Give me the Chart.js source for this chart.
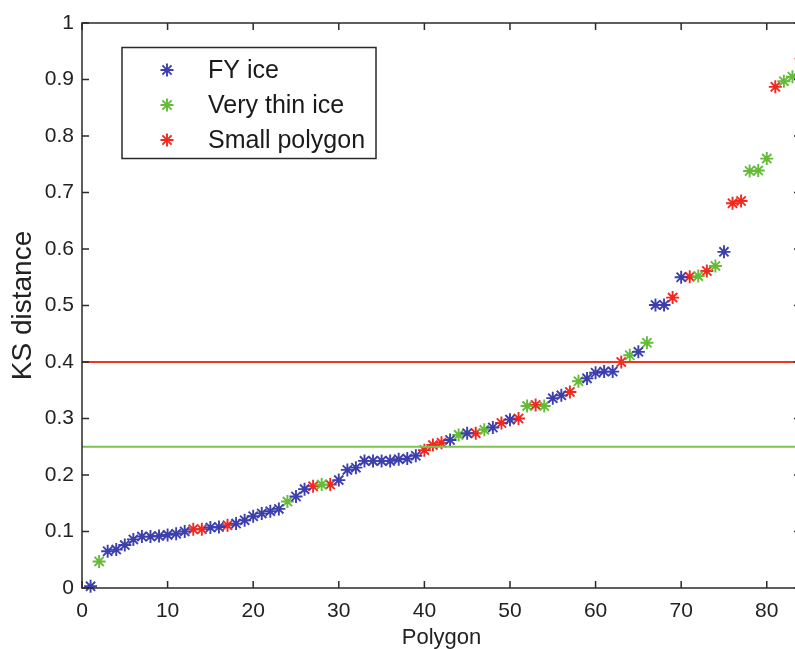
<!DOCTYPE html>
<html>
<head>
<meta charset="utf-8">
<title>KS distance</title>
<script src="https://cdn.jsdelivr.net/npm/chart.js"></script>
<style>
  html, body { margin: 0; padding: 0; background: #fff; overflow: hidden; }
  #wrap { width: 812px; height: 664px; }
</style>
</head>
<body>
<div id="wrap"><canvas id="ksChart" width="812" height="664"></canvas></div>
<script>
// clases de polígono
const clases = ["FY ice", "Very thin ice", "Small polygon"];
const colores = ["#3d40ac", "#63bb36", "#f0281e"];

// distancia KS de cada polígono (polígono 1 ... 84)
const ksDistancia = [
    0.003, 0.047, 0.065, 0.068, 0.076, 0.086, 0.091, 0.091, 0.092, 0.094,
    0.096, 0.100, 0.104, 0.104, 0.107, 0.108, 0.111, 0.114, 0.120, 0.127,
    0.132, 0.136, 0.140, 0.153, 0.162, 0.175, 0.180, 0.183, 0.183, 0.191,
    0.209, 0.213, 0.225, 0.225, 0.225, 0.225, 0.228, 0.229, 0.234, 0.244,
    0.253, 0.257, 0.262, 0.271, 0.274, 0.274, 0.280, 0.284, 0.292, 0.298,
    0.300, 0.322, 0.324, 0.322, 0.336, 0.341, 0.347, 0.366, 0.371, 0.381,
    0.383, 0.383, 0.400, 0.412, 0.418, 0.434, 0.501, 0.501, 0.514, 0.550,
    0.551, 0.552, 0.561, 0.570, 0.595, 0.681, 0.685, 0.738, 0.739, 0.760,
    0.887, 0.897, 0.905, 0.937
];

// clase de cada polígono: 0 = FY ice, 1 = Very thin ice, 2 = Small polygon
const clasePoligono = [
    0, 1, 0, 0, 0, 0, 0, 0, 0, 0,
    0, 0, 2, 2, 0, 0, 2, 0, 0, 0,
    0, 0, 0, 1, 0, 0, 2, 1, 2, 0,
    0, 0, 0, 0, 0, 0, 0, 0, 0, 2,
    2, 2, 0, 1, 0, 2, 1, 0, 2, 0,
    2, 1, 2, 1, 0, 0, 2, 1, 0, 0,
    0, 0, 2, 1, 0, 1, 0, 0, 2, 0,
    2, 1, 2, 1, 0, 2, 2, 1, 1, 1,
    2, 1, 1, 2
];

// umbrales horizontales
const umbralFino = 0.25;
const umbralPequeno = 0.4;

// ejes
const xMin = 0;
const xMax = 84;
const xTicks = [0, 10, 20, 30, 40, 50, 60, 70, 80];
const yTicks = [0, 0.1, 0.2, 0.3, 0.4, 0.5, 0.6, 0.7, 0.8, 0.9, 1];
const yTickLabels = ["0", "0.1", "0.2", "0.3", "0.4", "0.5", "0.6", "0.7", "0.8", "0.9", "1"];

const fuente = "'Liberation Sans', Arial, sans-serif";
Chart.defaults.font.family = fuente;
Chart.defaults.color = "#222";

// tamaño del asterisco
const radioMarca = 6.5;
const grosorMarca = 1.9;

// un dataset por clase
const puntos = clases.map((nombre, k) => ({
    label: nombre,
    data: ksDistancia
        .map((v, i) => ({ x: i + 1, y: v }))
        .filter((p, i) => clasePoligono[i] === k),
    pointStyle: "star",
    pointRadius: radioMarca,
    pointHoverRadius: radioMarca,
    pointBorderWidth: grosorMarca,
    borderColor: colores[k],
    backgroundColor: colores[k],
    showLine: false,
    clip: false
}));

// líneas de umbral
function lineaUmbral(valor, color) {
    return {
        label: "",
        data: [{ x: xMin, y: valor }, { x: xMax, y: valor }],
        showLine: true,
        borderColor: color,
        borderWidth: 2,
        pointRadius: 0,
        pointHoverRadius: 0
    };
}

// marco con marcas hacia dentro en los cuatro lados
const marco = {
    id: "marco",
    afterDatasetsDraw(chart) {
        const { ctx, chartArea: a, scales } = chart;
        const largo = 7;
        ctx.save();
        ctx.strokeStyle = "#2a2a2a";
        ctx.lineWidth = 1.5;
        ctx.strokeRect(a.left, a.top, a.right - a.left, a.bottom - a.top);
        ctx.beginPath();
        xTicks.forEach(v => {
            const px = scales.x.getPixelForValue(v);
            ctx.moveTo(px, a.bottom); ctx.lineTo(px, a.bottom - largo);
            ctx.moveTo(px, a.top); ctx.lineTo(px, a.top + largo);
        });
        yTicks.forEach(v => {
            const py = scales.y.getPixelForValue(v);
            ctx.moveTo(a.left, py); ctx.lineTo(a.left + largo, py);
            ctx.moveTo(a.right, py); ctx.lineTo(a.right - largo, py);
        });
        ctx.stroke();
        ctx.restore();
    }
};

// leyenda en recuadro, arriba a la izquierda
const leyenda = {
    id: "leyenda",
    afterDraw(chart) {
        const ctx = chart.ctx;
        const caja = { x: 122, y: 47.5, w: 254, h: 111 };
        ctx.save();
        ctx.fillStyle = "#fff";
        ctx.fillRect(caja.x, caja.y, caja.w, caja.h);
        ctx.strokeStyle = "#2a2a2a";
        ctx.lineWidth = 1.5;
        ctx.strokeRect(caja.x, caja.y, caja.w, caja.h);
        ctx.font = "25px " + fuente;
        ctx.textBaseline = "middle";
        ctx.textAlign = "left";
        clases.forEach((nombre, k) => {
            const y = 70 + k * 35;
            const x = 167;
            const r = radioMarca;
            const d = r * Math.SQRT1_2;
            ctx.strokeStyle = colores[k];
            ctx.lineWidth = grosorMarca;
            ctx.beginPath();
            ctx.moveTo(x - r, y); ctx.lineTo(x + r, y);
            ctx.moveTo(x, y - r); ctx.lineTo(x, y + r);
            ctx.moveTo(x - d, y - d); ctx.lineTo(x + d, y + d);
            ctx.moveTo(x - d, y + d); ctx.lineTo(x + d, y - d);
            ctx.stroke();
            ctx.fillStyle = "#1a1a1a";
            ctx.fillText(nombre, 208, y + 1);
        });
        ctx.restore();
    }
};

const ctx = document.getElementById("ksChart").getContext("2d");

new Chart(ctx, {
    type: "scatter",
    data: {
        datasets: [
            lineaUmbral(umbralFino, "#7cc34f"),
            lineaUmbral(umbralPequeno, "#ee3524"),
            ...puntos
        ]
    },
    options: {
        responsive: false,
        animation: false,
        devicePixelRatio: 1,
        layout: { padding: { top: 23, right: 11, bottom: 0, left: 0 } },
        plugins: {
            legend: { display: false },
            tooltip: { enabled: false }
        },
        scales: {
            x: {
                type: "linear",
                min: xMin,
                max: xMax,
                afterBuildTicks: s => { s.ticks = xTicks.map(v => ({ value: v })); },
                afterFit: s => { s.height = 76; },
                grid: { display: false, drawTicks: false },
                border: { display: false },
                ticks: { font: { size: 21, lineHeight: 1.2 }, padding: 11, maxRotation: 0 },
                title: {
                    display: true,
                    text: "Polygon",
                    font: { size: 22, lineHeight: 1 },
                    padding: { top: 0, bottom: 15 }
                }
            },
            y: {
                min: 0,
                max: 1,
                afterBuildTicks: s => { s.ticks = yTicks.map(v => ({ value: v })); },
                afterFit: s => { s.width = 82; },
                grid: { display: false, drawTicks: false },
                border: { display: false },
                ticks: {
                    font: { size: 21, lineHeight: 1.2 },
                    padding: 8,
                    callback: (v, i) => yTickLabels[i]
                },
                title: {
                    display: true,
                    text: "KS distance",
                    font: { size: 28, lineHeight: 1 },
                    padding: { top: 9, bottom: 0 }
                }
            }
        }
    },
    plugins: [marco, leyenda]
});
</script>
</body>
</html>
